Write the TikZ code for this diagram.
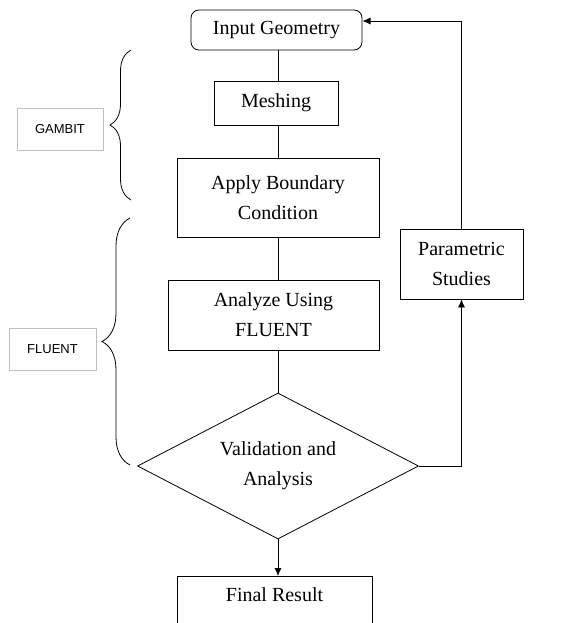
\documentclass[tikz,border=0pt]{standalone}
\usepackage{fontspec}
\setmainfont{Liberation Serif}
\newfontfamily\tagfont{Liberation Sans}
\usetikzlibrary{shapes.geometric,arrows.meta,decorations.pathreplacing}

\tikzset{
  box/.style={draw, line width=0.8pt, align=center, inner sep=2pt,
    font=\fontsize{20}{30}\selectfont},
  tag/.style={draw=black!25, line width=0.7pt, minimum width=86pt,
    minimum height=42pt, font=\tagfont\fontsize{13}{15}\selectfont},
  arr/.style={-{Latex[length=8pt,width=7pt]}, line width=0.8pt},
  ln/.style={line width=0.8pt},
  brc/.style={decorate, line width=0.8pt}
}

\begin{document}
\begin{tikzpicture}[x=1pt,y=-1pt]
  \path[use as bounding box, clip] (0,0) rectangle (568,623);
  \node[box, rounded corners=8pt, minimum width=171pt, minimum height=40pt] (geo) at (276.5,30) {Input Geometry};
  \node[box, minimum width=124pt, minimum height=44pt] (mesh) at (276,103) {Meshing};
  \node[box, minimum width=202pt, minimum height=79pt] (bc) at (278,197.5) {Apply Boundary\\Condition};
  \node[box, minimum width=211pt, minimum height=70pt] (fl) at (273.5,315) {Analyze Using\\FLUENT};
  \node[box, diamond, aspect=1.9, inner sep=0pt, minimum width=281pt, minimum height=146pt] (val) at (278,466) {Validation and\\Analysis};
  \node[box, anchor=north, minimum width=195pt, minimum height=66pt, inner sep=2pt] (res) at (274.5,576) {Final Result\\ ~};
  \node[box, minimum width=123pt, minimum height=70pt] (par) at (461.5,264) {Parametric\\Studies};
  \node[tag] (gam) at (60,129) {GAMBIT};
  \node[tag, minimum width=87pt] (flu) at (52.5,349) {FLUENT};
  \coordinate (ret) at (362.5,21);
  \coordinate (g1) at (131,200);
  \coordinate (g2) at (131,50);
  \coordinate (f1) at (130,465);
  \coordinate (f2) at (130,218);
  \draw[ln] (geo.south -| val) -- (mesh.north -| val);
  \draw[ln] (mesh.south -| val) -- (bc.north -| val);
  \draw[ln] (bc.south -| val) -- (fl.north -| val);
  \draw[ln] (fl.south -| val) -- (val.north);
  \draw[arr] (val.south) -- (res.north -| val);
  \draw[arr] (val.east) -| (par.south);
  \draw[arr] (par.north) |- (ret);
  \draw[brc, decoration={brace, amplitude=21pt}] (g1) -- (g2);
  \draw[brc, decoration={brace, amplitude=28pt}] (f1) -- (f2);
\end{tikzpicture}
\end{document}
